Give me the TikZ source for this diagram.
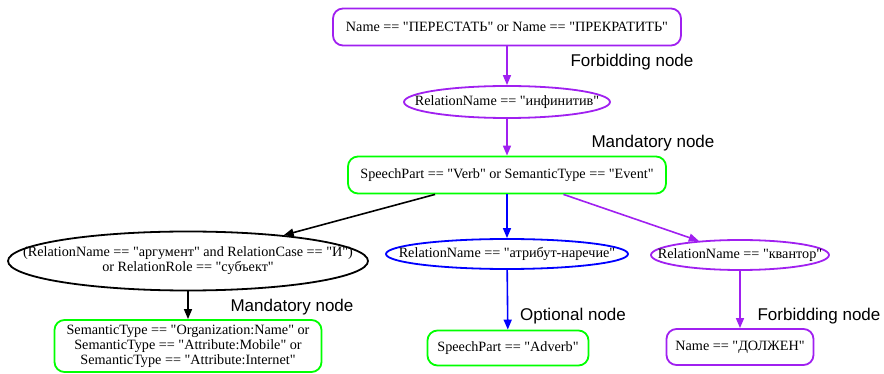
\documentclass[tikz,border=0pt]{standalone}
\usepackage{fontspec}
\setmainfont{Liberation Serif}[Ligatures=TeXOff]
\newfontfamily\labelfont{Liberation Sans}
\usetikzlibrary{arrows.meta,shapes.geometric}
\definecolor{GVPurple}{RGB}{160,32,240}
\definecolor{GVGreen}{RGB}{0,255,0}
\definecolor{GVBlue}{RGB}{0,0,255}
\newcommand{\nodefont}{\fontsize{14.2}{15}\selectfont}
\newcommand{\ztext}[1]{\makebox[0pt]{#1}}
\tikzset{
  rbox/.style={draw=#1,line width=1.8pt,rounded corners=10pt,inner sep=3pt,align=center,font=\nodefont},
  ebox/.style={draw=#1,ellipse,line width=1.8pt,inner sep=0pt,align=center,font=\nodefont},
  arr/.style={-{Triangle[length=10pt,width=8pt]},draw=#1,line width=1.6pt},
  tag/.style={font=\labelfont\fontsize{17}{19}\selectfont},
}
\begin{document}
\begin{tikzpicture}[x=1pt,y=1pt]
    \useasboundingbox (0,0) rectangle (884,-374);
    \node[rbox=GVPurple,minimum width=348pt,minimum height=37pt] (stop)   at (507,-27)  {Name == "ПЕРЕСТАТЬ" or Name == "ПРЕКРАТИТЬ"};
    \node[ebox=GVPurple,minimum width=206pt,minimum height=32pt] (inf)    at (507,-102) {\ztext{RelationName == "инфинитив"}};
    \node[rbox=GVGreen,minimum width=318pt,minimum height=37pt]  (verb)   at (507,-175) {SpeechPart == "Verb" or SemanticType == "Event"};
    \node[ebox=black,minimum width=360pt,minimum height=59pt]    (subj)   at (188,-261) {\ztext{(RelationName == "аргумент" and RelationCase == "И")}\\\ztext{or RelationRole == "субъект"}};
    \node[ebox=GVBlue,minimum width=242pt,minimum height=30pt]   (adv)    at (507,-254) {\ztext{RelationName == "атрибут-наречие"}};
    \node[ebox=GVPurple,minimum width=178pt,minimum height=30pt] (quant)  at (740,-255) {\ztext{RelationName == "квантор"}};
    \node[rbox=GVGreen,minimum width=267pt,minimum height=52pt]  (org)    at (188,-346) {SemanticType == "Organization:Name" or\\SemanticType == "Attribute:Mobile" or\\SemanticType == "Attribute:Internet"};
    \node[rbox=GVGreen,minimum width=161pt,minimum height=35pt]  (advpos) at (508,-348) {SpeechPart == "Adverb"};
    \node[rbox=GVPurple,minimum width=147pt,minimum height=36pt] (must)   at (740,-347) {Name == "ДОЛЖЕН"};
    \draw[arr=GVPurple] (stop)--(inf);
    \draw[arr=GVPurple] (inf)--(verb);
    \draw[arr=black] (verb)--(subj);
    \draw[arr=GVBlue] (verb)--(adv);
    \draw[arr=GVPurple] (verb)--(quant);
    \draw[arr=black] (subj)--(org);
    \draw[arr=GVBlue] (adv)--(advpos);
    \draw[arr=GVPurple] (quant)--(must);
    %% Node kinds
    \node[tag] (t1) at (632,-62)  {Forbidding node};
    \node[tag] (t2) at (653,-143) {Mandatory node};
    \node[tag] (t3) at (292,-307) {Mandatory node};
    \node[tag] (t4) at (573,-316) {Optional node};
    \node[tag] (t5) at (819,-316) {Forbidding node};
  \end{tikzpicture}
\end{document}
